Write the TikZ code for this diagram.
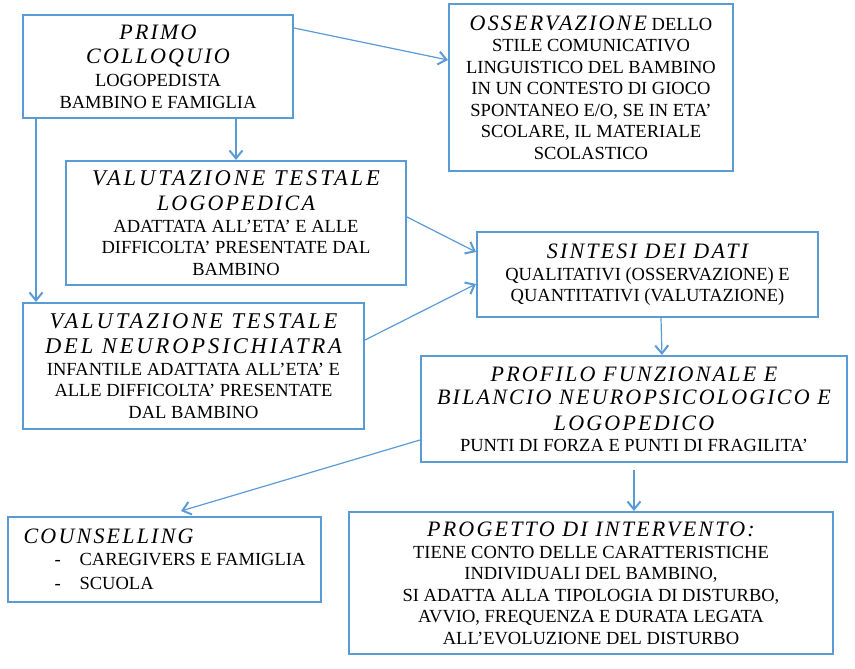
\documentclass[tikz,border=0pt]{standalone}
\usepackage{fontspec}
\setmainfont{Liberation Serif}
\newfontfamily\ttlfont[LetterSpace=10]{Liberation Serif}
\newfontfamily\ttlwidefont[LetterSpace=13]{Liberation Serif}
\usepackage{xcolor}
\usetikzlibrary{arrows.meta,positioning}

\definecolor{boxblue}{RGB}{91,155,213}
\newcommand{\titletxt}[1]{{\ttlfont\itshape\fontsize{22}{24}\selectfont #1}}
\newcommand{\titlewide}[1]{{\ttlwidefont\itshape\fontsize{22.5}{24}\selectfont #1}}

\begin{document}
\begin{tikzpicture}[
  x=1pt, y=-1pt,
  font=\fontsize{18.5}{21.5}\selectfont,
  box/.style={draw=boxblue, line width=2pt, align=center, inner sep=2pt, anchor=north west},
  arr/.style={draw=boxblue, line width=1.2pt,
              -{Straight Barb[length=8pt,width=13pt,line width=2pt]}}
]
  \useasboundingbox (0,0) rectangle (855,669);

  \node[box, minimum width=270pt, minimum height=103pt] (primo) at (22,14)
    {\titletxt{PRIMO}\\[3pt]\titletxt{COLLOQUIO}\\[1.5pt]LOGOPEDISTA\\BAMBINO E FAMIGLIA};
  \node[box, minimum width=284pt, minimum height=167pt] (osserv) at (448,3)
    {\titletxt{OSSERVAZIONE} DELLO\\STILE COMUNICATIVO\\LINGUISTICO DEL BAMBINO\\IN UN CONTESTO DI GIOCO\\SPONTANEO E/O, SE IN ETA’\\SCOLARE, IL MATERIALE\\SCOLASTICO};
  \node[box, minimum width=340pt, minimum height=124pt] (vallogo) at (65,160)
    {\titlewide{VALUTAZIONE TESTALE}\\[3.5pt]\titletxt{LOGOPEDICA}\\[0.5pt]ADATTATA ALL’ETA’ E ALLE\\DIFFICOLTA’ PRESENTATE DAL\\BAMBINO};
  \node[box, minimum width=341pt, minimum height=85pt] (sintesi) at (476,231)
    {\titletxt{SINTESI DEI DATI}\\[0.5pt]QUALITATIVI (OSSERVAZIONE) E\\QUANTITATIVI (VALUTAZIONE)};
  \node[box, minimum width=341pt, minimum height=126pt] (valneuro) at (22,302)
    {\titlewide{VALUTAZIONE TESTALE}\\[3.5pt]\titlewide{DEL NEUROPSICHIATRA}\\[0pt]INFANTILE ADATTATA ALL’ETA’ E\\ALLE DIFFICOLTA’ PRESENTATE\\DAL BAMBINO};
  \node[box, minimum width=426pt, minimum height=106pt] (profilo) at (420,355)
    {\titletxt{PROFILO FUNZIONALE E}\\[1.5pt]\titletxt{BILANCIO NEUROPSICOLOGICO E}\\[4.5pt]\titletxt{LOGOPEDICO}\\[-0.5pt]PUNTI DI FORZA E PUNTI DI FRAGILITA’};
  \node[box, minimum width=313pt, minimum height=85pt, align=left] (couns) at (7,516)
    {\titletxt{COUNSELLING}\\[0.5pt]
     \hspace*{31pt}\makebox[25pt][l]{-}CAREGIVERS E FAMIGLIA\\[2.5pt]
     \hspace*{31pt}\makebox[25pt][l]{-}SCUOLA};
  \node[box, minimum width=484pt, minimum height=142pt] (progetto) at (348,511)
    {\titletxt{PROGETTO DI INTERVENTO:}\\[0.5pt]TIENE CONTO DELLE CARATTERISTICHE\\INDIVIDUALI DEL BAMBINO,\\SI ADATTA ALLA TIPOLOGIA DI DISTURBO,\\AVVIO, FREQUENZA E DURATA LEGATA\\ALL’EVOLUZIONE DEL DISTURBO};

  % connectors
  \draw[arr] ([yshift=-14pt]primo.north east) -- ([yshift=-57pt]osserv.north west);
  \draw[arr] (primo.south -| vallogo.north) -- (vallogo.north);
  \draw[arr] ([xshift=14pt]primo.south west) -- ([xshift=14pt]valneuro.north west);
  \draw[arr] ([yshift=-57pt]vallogo.north east) -- ([yshift=-21pt]sintesi.north west);
  \draw[arr] ([yshift=-38pt]valneuro.north east) -- ([yshift=-53pt]sintesi.north west);
  \draw[arr] ([xshift=13.5pt]sintesi.south) -- ([xshift=14.5pt]sintesi.south |- profilo.north);
  \draw[arr] ([yshift=-85pt]profilo.north west) -- ([xshift=16.5pt,yshift=5pt]couns.north);
  \draw[arr] ([yshift=-7pt]profilo.south) -- (profilo.south |- progetto.north);
\end{tikzpicture}
\end{document}
